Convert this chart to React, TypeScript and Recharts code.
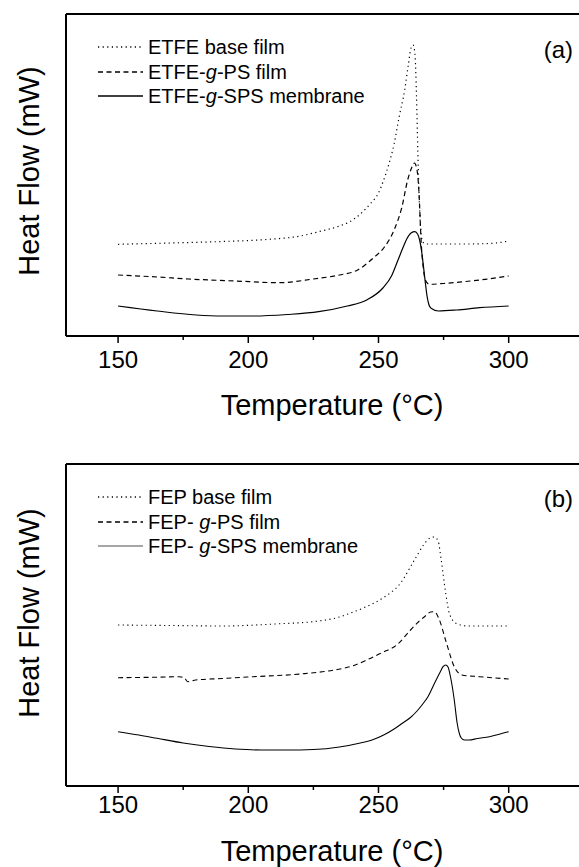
import React from 'react';
import { LineChart, Line, XAxis, YAxis, Legend } from 'recharts';

// ---------- data: panel (a) ETFE ----------
const aBaseT = [150, 170, 190, 208, 220, 227, 235, 239, 243, 247, 250, 252, 254, 256, 258, 260, 261.5, 262.5, 263.3, 264, 264.6, 265.1, 265.6, 266.2, 267, 268.5, 275, 285, 295, 300];
const aBaseV = [91.7, 93, 94.5, 96.7, 100, 104.3, 110, 114.3, 122, 132.7, 143, 156, 172, 192, 220, 245, 272, 288, 291, 282, 240, 185, 140, 108, 94, 92, 92, 92, 93, 95];

const aPsT = [150, 165, 177, 195, 212, 225, 235, 242, 248, 252, 256, 259, 261.2, 262.7, 263.8, 264.8, 265.4, 266.5, 267.3, 268, 269.5, 275, 282.6, 292, 300];
const aPsV = [61, 59, 57, 55, 53.3, 57, 61, 66, 78, 88, 106, 129, 156, 168, 173, 166, 150, 89, 66, 56, 51.7, 52.5, 54.3, 57, 60];

const aSpsT = [150, 165, 180, 190, 202, 215, 227, 238, 245.5, 251.7, 255, 257.5, 259.5, 261, 262.5, 264, 265, 265.8, 266.6, 267.3, 268, 268.7, 269.4, 270.2, 273, 280, 288.8, 300];
const aSpsV = [30, 25, 21, 20, 20, 21.5, 24.3, 30, 36, 48, 60, 76, 89, 97.7, 103, 104.3, 102, 96, 84, 69, 53, 39, 31, 27.7, 25, 26, 28.3, 30];

// ---------- data: panel (b) FEP ----------
const bBaseT = [150, 170, 190, 210, 227, 235, 239.3, 245, 251.7, 258.5, 263.8, 267.3, 269.8, 271.4, 272.9, 274.1, 275.8, 277.4, 280.3, 284.5, 300];
const bBaseV = [161, 160.5, 160, 162, 165, 169, 173, 179, 188, 203, 226, 241, 248, 249, 245, 226, 193, 171, 162, 160, 160];

const bPsT = [150, 165, 173.6, 175.5, 176.7, 179.8, 190, 202, 220, 233, 240, 245.5, 251, 257, 262.3, 265.3, 268, 270, 271.5, 273.1, 276.1, 279.1, 282, 288.9, 300];
const bPsV = [108.3, 108.8, 109.3, 108, 104.3, 106, 107.5, 109.3, 112, 116, 120, 126, 133, 141, 156, 164, 170, 174, 174.3, 168, 143, 119.3, 111, 109.3, 107];

const bSpsT = [150, 158, 165, 175, 185, 195, 205, 215, 225, 235, 243, 248, 252, 256, 259, 262.5, 264.8, 267, 269, 271.8, 273.7, 274.8, 275.8, 276.7, 277.5, 278.3, 279.1, 280.2, 281.1, 281.8, 283, 284.8, 288, 292.6, 296, 300];
const bSpsV = [54.3, 51, 47.7, 43, 39.5, 37, 36, 36, 36.5, 39, 43, 46.5, 51, 57, 62.5, 69, 75, 82, 89.3, 104.3, 114, 119.3, 121, 119, 111, 100, 86, 63, 52, 48, 46, 46, 47.5, 49.3, 51.5, 54.3];

// ---------- labels ----------
const xTicks = [150, 175, 200, 225, 250, 275, 300];
const xDomain: [number, number] = [130, 327];
const yDomain: [number, number] = [0, 322];
const xTitle = 'Temperature (°C)';
const yTitle = 'Heat Flow (mW)';
const aLegend: string[][] = [['ETFE base film'], ['ETFE-', 'g', '-PS film'], ['ETFE-', 'g', '-SPS membrane']];
const bLegend: string[][] = [['FEP base film'], ['FEP- ', 'g', '-PS film'], ['FEP- ', 'g', '-SPS membrane']];
const aTag = '(a)';
const bTag = '(b)';

const FONT = '"Liberation Sans", Arial, Helvetica, sans-serif';

const zip = (t: number[], v: number[]) => t.map((x, i) => ({ t: x, v: v[i] }));

const DOT = '1.2 3.4';
const DASH = '5 3.5';

const makeTick = (labelDy: number) => (props: any) => {
  const { x, y, payload } = props;
  const major = payload.value % 50 === 0;
  return (
    <g>
      <line x1={x} x2={x} y1={y} y2={y + (major ? 7 : 4)} stroke="#000" strokeWidth={1.5} />
      {major && (
        <text x={x} y={y + labelDy} textAnchor="middle" fontSize={24} fontFamily={FONT} fill="#000">
          {payload.value}
        </text>
      )}
    </g>
  );
};

const makeXTitle = (dy: number) => (props: any) => {
  const vb = props.viewBox || { x: 0, y: 0 };
  return (
    <text x={332} y={vb.y + dy} textAnchor="middle" fontSize={29} fontFamily={FONT} fill="#000">
      {xTitle}
    </text>
  );
};

const makeYTitle = (cy: number) => (props: any) => {
  const vb = props.viewBox || { x: 0, y: 0 };
  const cx = vb.x + (vb.width || 0) - 27;
  return (
    <text x={cx} y={cy} transform={`rotate(-90, ${cx}, ${cy})`} textAnchor="middle" fontSize={29} fontFamily={FONT} fill="#000">
      {yTitle}
    </text>
  );
};

const makeLegend = (items: string[][], rowTop: number, tag: string, tagTop: number, solidColor: string) => () => (
  <div style={{ position: 'relative', width: 579, height: 0, fontFamily: FONT, color: '#000' }}>
    {items.map((it, i) => {
      const dash = i === 0 ? DOT : i === 1 ? DASH : undefined;
      const col = i === 2 ? solidColor : '#000';
      return (
        <div key={i} style={{ position: 'absolute', left: 98, top: rowTop + i * 24.5 - 12, height: 24, display: 'flex', alignItems: 'center', whiteSpace: 'nowrap' }}>
          <svg width={45} height={4} style={{ display: 'block' }}>
            <line x1={0} x2={45} y1={2} y2={2} stroke={col} strokeWidth={1.3} strokeDasharray={dash} />
          </svg>
          <span style={{ marginLeft: 5, fontSize: 20, lineHeight: '24px' }}>
            {it[0]}
            {it.length > 1 && <i>{it[1]}</i>}
            {it.length > 2 && it[2]}
          </span>
        </div>
      );
    })}
    <div style={{ position: 'absolute', right: 6, top: tagTop - 14, fontSize: 24, lineHeight: '28px' }}>{tag}</div>
  </div>
);

type PanelProps = {
  top: number;
  height: number;
  xAxisHeight: number;
  base: { t: number; v: number }[];
  ps: { t: number; v: number }[];
  sps: { t: number; v: number }[];
  legend: string[][];
  legendTop: number;
  tag: string;
  tagTop: number;
  tickDy: number;
  titleDy: number;
  yTitleCy: number;
  names: string[];
  solidLegendColor: string;
  lineW: number;
};

const Panel = (p: PanelProps) => (
  <div style={{ position: 'absolute', left: 0, top: p.top, width: 579, height: p.height }}>
    <LineChart width={579} height={p.height} margin={{ top: 12, right: 0, left: 64, bottom: 0 }}>
      <XAxis
        xAxisId="b"
        dataKey="t"
        type="number"
        domain={xDomain}
        ticks={xTicks}
        allowDataOverflow
        height={p.xAxisHeight}
        tickSize={0}
        tickMargin={0}
        tickLine={false}
        axisLine={{ stroke: '#000', strokeWidth: 2 }}
        tick={makeTick(p.tickDy)}
        interval={0}
        label={makeXTitle(p.titleDy)}
      />
      <XAxis
        xAxisId="t"
        orientation="top"
        dataKey="t"
        type="number"
        domain={xDomain}
        ticks={xTicks}
        allowDataOverflow
        height={2}
        tick={false}
        tickLine={false}
        axisLine={{ stroke: '#000', strokeWidth: 2 }}
      />
      <YAxis
        type="number"
        domain={yDomain}
        allowDataOverflow
        width={2}
        tick={false}
        tickLine={false}
        axisLine={{ stroke: '#000', strokeWidth: 2 }}
        label={makeYTitle(p.yTitleCy)}
      />
      <Legend
        layout="vertical"
        align="center"
        verticalAlign="middle"
        content={makeLegend(p.legend, p.legendTop, p.tag, p.tagTop, p.solidLegendColor)}
        wrapperStyle={{ left: 0, top: 0, width: 579, height: 0 }}
      />
      <Line xAxisId="b" data={p.base} dataKey="v" name={p.names[0]} type="monotone" stroke="#000" strokeWidth={p.lineW} strokeDasharray={DOT} dot={false} isAnimationActive={false} />
      <Line xAxisId="b" data={p.ps} dataKey="v" name={p.names[1]} type="monotone" stroke="#000" strokeWidth={p.lineW} strokeDasharray={DASH} dot={false} isAnimationActive={false} />
      <Line xAxisId="b" data={p.sps} dataKey="v" name={p.names[2]} type="monotone" stroke="#000" strokeWidth={p.lineW} dot={false} isAnimationActive={false} />
    </LineChart>
  </div>
);

export default function App() {
  return (
    <div style={{ position: 'absolute', left: 0, top: 0, width: 579, height: 867, background: '#fff', fontFamily: FONT, overflow: 'hidden' }}>
      <Panel
        top={0}
        height={430}
        xAxisHeight={94}
        base={zip(aBaseT, aBaseV)}
        ps={zip(aPsT, aPsV)}
        sps={zip(aSpsT, aSpsV)}
        legend={aLegend}
        legendTop={47}
        tag={aTag}
        tagTop={50}
        tickDy={32}
        titleDy={79}
        yTitleCy={171}
        names={['ETFE base film', 'ETFE-g-PS film', 'ETFE-g-SPS membrane']}
        solidLegendColor="#000"
        lineW={1.2}
      />
      <Panel
        top={450}
        height={417}
        xAxisHeight={81}
        base={zip(bBaseT, bBaseV)}
        ps={zip(bPsT, bPsV)}
        sps={zip(bSpsT, bSpsV)}
        legend={bLegend}
        legendTop={47}
        tag={bTag}
        tagTop={49}
        tickDy={27}
        titleDy={75}
        yTitleCy={163}
        names={['FEP base film', 'FEP- g-PS film', 'FEP- g-SPS membrane']}
        solidLegendColor="#888"
        lineW={1.1}
      />
    </div>
  );
}
